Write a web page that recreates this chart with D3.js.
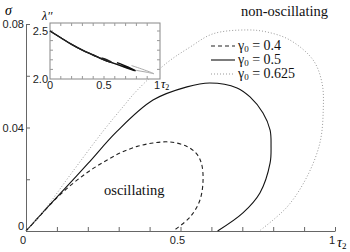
<!DOCTYPE html>
<html>
<head>
<meta charset="utf-8">
<script src="https://cdn.jsdelivr.net/npm/d3@7"></script>
<style>
  html, body { margin: 0; padding: 0; background: #fff; }
  svg { display: block; }
</style>
</head>
<body>
<div id="chart"></div>
<script>
// main curves: [tau2, sigma]
const curve04 = [
  [0, 0], [0.04, 0.0052], [0.087, 0.0113], [0.142, 0.0174], [0.197, 0.0225],
  [0.249, 0.0265], [0.304, 0.0301], [0.36, 0.0327], [0.411, 0.034], [0.466, 0.0344],
  [0.521, 0.0327], [0.553, 0.0297], [0.568, 0.026], [0.573, 0.0197], [0.563, 0.012],
  [0.531, 0.0054], [0.476, 0]
];
const curve05 = [
  [0, 0], [0.05, 0.0066], [0.1, 0.0131], [0.2, 0.026], [0.2935, 0.0384],
  [0.411, 0.0506], [0.521, 0.0557], [0.595, 0.0572], [0.683, 0.0553], [0.725, 0.0518],
  [0.767, 0.0456], [0.79, 0.039], [0.793, 0.033], [0.79, 0.0263], [0.757, 0.0147],
  [0.702, 0.007], [0.62, 0]
];
const curve0625 = [
  [0, 0], [0.06, 0.0082], [0.142, 0.0215], [0.249, 0.0385], [0.314, 0.048],
  [0.359, 0.0543], [0.456, 0.065], [0.53, 0.071], [0.605, 0.0762], [0.715, 0.0777],
  [0.78, 0.0769], [0.854, 0.0738], [0.929, 0.0661], [0.958, 0.0572], [0.962, 0.0468],
  [0.951, 0.034], [0.909, 0.0209], [0.845, 0.0093], [0.755, 0]
];

// inset curves: [tau2, lambda'']
const inset04 = [
  [0, 2.5], [0.1, 2.43], [0.2, 2.36], [0.3, 2.3], [0.4, 2.25], [0.5, 2.2], [0.573, 2.17],
  [0.53, 2.2], [0.476, 2.22]
];
const inset05 = [
  [0, 2.5], [0.1, 2.43], [0.2, 2.36], [0.3, 2.3], [0.4, 2.25], [0.5, 2.2], [0.6, 2.16],
  [0.7, 2.12], [0.79, 2.085], [0.72, 2.125], [0.62, 2.17]
];
const inset0625 = [
  [0, 2.5], [0.1, 2.43], [0.2, 2.36], [0.3, 2.3], [0.4, 2.25], [0.5, 2.2], [0.6, 2.16],
  [0.7, 2.12], [0.8, 2.09], [0.9, 2.07], [0.962, 2.055], [0.86, 2.1], [0.755, 2.14]
];

const gammas = ["0.4", "0.5", "0.625"];
const xTickLabels = [0, 0.5, 1];
const yTickLabels = [0, 0.04, 0.08];
const insetXLabels = [0, 0.5, 1];
const insetYLabels = [2.0, 2.5];

const width = 350, height = 252;
const serif = "'Liberation Serif', 'DejaVu Serif', serif";
const sans = "'Liberation Sans', Arial, sans-serif";

const svg = d3.select("#chart").append("svg")
  .attr("width", width)
  .attr("height", height);

const x = d3.scaleLinear().domain([0, 1]).range([26, 335]);
const y = d3.scaleLinear().domain([0, 0.08]).range([231, 24]);

const styles = [
  { data: curve04, inset: inset04, color: "#222", dash: "4,3", w: 1.1, iw: 1.4, icolor: "#222" },
  { data: curve05, inset: inset05, color: "#111", dash: null, w: 1.1, iw: 1.4, icolor: "#111" },
  { data: curve0625, inset: inset0625, color: "#999", dash: "1,2", w: 1, iw: 1, icolor: "#aaa" }
];

// axes
const axisColor = "#666";
const gx = svg.append("g").attr("transform", `translate(0,${y(0)})`)
  .call(d3.axisBottom(x).tickValues(d3.range(0, 1.01, 0.1)).tickSizeInner(-4).tickSizeOuter(0).tickFormat(""));
const gy = svg.append("g").attr("transform", `translate(${x(0)},0)`)
  .call(d3.axisLeft(y).tickValues(d3.range(0, 0.081, 0.02)).tickSizeInner(-4).tickSizeOuter(0).tickFormat(""));
[gx, gy].forEach(g => {
  g.select(".domain").attr("stroke", axisColor);
  g.selectAll(".tick line").attr("stroke", axisColor);
});

svg.append("g").selectAll("text").data(xTickLabels).join("text")
  .attr("x", d => x(d) - 3)
  .attr("y", 244)
  .attr("text-anchor", "middle")
  .attr("font-family", sans).attr("font-size", 11).attr("fill", "#222")
  .text(d => d === 0.5 ? "0.5" : d);

svg.append("g").selectAll("text").data(yTickLabels).join("text")
  .attr("x", 24)
  .attr("y", d => y(d) + (d === 0 ? -1 : 4))
  .attr("text-anchor", "end")
  .attr("font-family", sans).attr("font-size", 11).attr("fill", "#222")
  .text(d => d === 0 ? "0" : d.toFixed(2));

svg.append("text").attr("x", 5).attr("y", 15)
  .attr("font-family", serif).attr("font-style", "italic").attr("font-size", 14).text("σ");

const t2 = svg.append("text").attr("x", 337).attr("y", 247)
  .attr("font-family", serif).attr("font-style", "italic").attr("font-size", 14).text("τ");
t2.append("tspan").attr("font-style", "normal").attr("font-size", 9).attr("dy", 2).text("2");

// main curves
const line = d3.line().x(d => x(d[0])).y(d => y(d[1])).curve(d3.curveCatmullRom.alpha(0.5));
svg.append("g").selectAll("path").data(styles).join("path")
  .attr("d", d => line(d.data))
  .attr("fill", "none")
  .attr("stroke", d => d.color)
  .attr("stroke-width", d => d.w)
  .attr("stroke-dasharray", d => d.dash);

// region labels
svg.append("text").attr("x", 241).attr("y", 16)
  .attr("font-family", serif).attr("font-size", 14.5).attr("fill", "#111").text("non-oscillating");
svg.append("text").attr("x", 104).attr("y", 195)
  .attr("font-family", serif).attr("font-size", 14.5).attr("fill", "#111").text("oscillating");

// legend
const legend = svg.append("g").selectAll("g").data(styles).join("g")
  .attr("transform", (d, i) => `translate(211,${46 + i * 14})`);
legend.append("line")
  .attr("x1", 0).attr("x2", 24)
  .attr("stroke", d => d.color)
  .attr("stroke-width", d => d.w)
  .attr("stroke-dasharray", d => d.dash);
const lt = legend.append("text").attr("x", 27).attr("y", 4)
  .attr("font-family", serif).attr("font-size", 14).attr("fill", "#111");
lt.append("tspan").text("γ");
lt.append("tspan").attr("font-size", 9).attr("dy", 2).text("0");
lt.append("tspan").attr("dy", -2).text((d, i) => " = " + gammas[i]);

// inset
const ix = d3.scaleLinear().domain([0, 1]).range([50, 158]);
const iy = d3.scaleLinear().domain([2, 2.5]).range([79, 31]);
const inset = svg.append("g");
inset.append("rect").attr("x", 50).attr("y", 23).attr("width", 110).attr("height", 56)
  .attr("fill", "#fff").attr("stroke", "#888").attr("stroke-width", 1);

const ixTicks = d3.range(0.1, 1.0, 0.1);
const iyTicks = d3.range(2.1, 2.55, 0.1);
inset.append("g").selectAll("line").data(ixTicks).join("line")
  .attr("x1", d => ix(d)).attr("x2", d => ix(d)).attr("y1", 79).attr("y2", 76)
  .attr("stroke", "#999");
inset.append("g").selectAll("line").data(ixTicks).join("line")
  .attr("x1", d => ix(d)).attr("x2", d => ix(d)).attr("y1", 23).attr("y2", 26)
  .attr("stroke", "#999");
inset.append("g").selectAll("line").data(iyTicks).join("line")
  .attr("x1", 50).attr("x2", 53).attr("y1", d => iy(d)).attr("y2", d => iy(d))
  .attr("stroke", "#999");
inset.append("g").selectAll("line").data(iyTicks).join("line")
  .attr("x1", 160).attr("x2", 157).attr("y1", d => iy(d)).attr("y2", d => iy(d))
  .attr("stroke", "#999");

const iline = d3.line().x(d => ix(d[0])).y(d => iy(d[1])).curve(d3.curveCatmullRom.alpha(0.5));
inset.append("g").selectAll("path").data(styles.slice().reverse()).join("path")
  .attr("d", d => iline(d.inset))
  .attr("fill", "none")
  .attr("stroke", d => d.icolor)
  .attr("stroke-width", d => d.iw);

inset.append("g").selectAll("text").data(insetXLabels).join("text")
  .attr("x", d => ix(d) + (d === 1 ? -1 : 0))
  .attr("y", 89)
  .attr("text-anchor", "middle")
  .attr("font-family", sans).attr("font-size", 11).attr("fill", "#222")
  .text(d => d === 0.5 ? "0.5" : d);
inset.append("g").selectAll("text").data(insetYLabels).join("text")
  .attr("x", 48)
  .attr("y", d => iy(d) + 4)
  .attr("text-anchor", "end")
  .attr("font-family", sans).attr("font-size", 11).attr("fill", "#222")
  .text(d => d.toFixed(1));

const it2 = inset.append("text").attr("x", 161).attr("y", 88)
  .attr("font-family", serif).attr("font-style", "italic").attr("font-size", 12).text("τ");
it2.append("tspan").attr("font-style", "normal").attr("font-size", 8).attr("dy", 2).text("2");
inset.append("text").attr("x", 42).attr("y", 20)
  .attr("font-family", serif).attr("font-style", "italic").attr("font-size", 12).text("λ′′");
</script>
</body>
</html>
